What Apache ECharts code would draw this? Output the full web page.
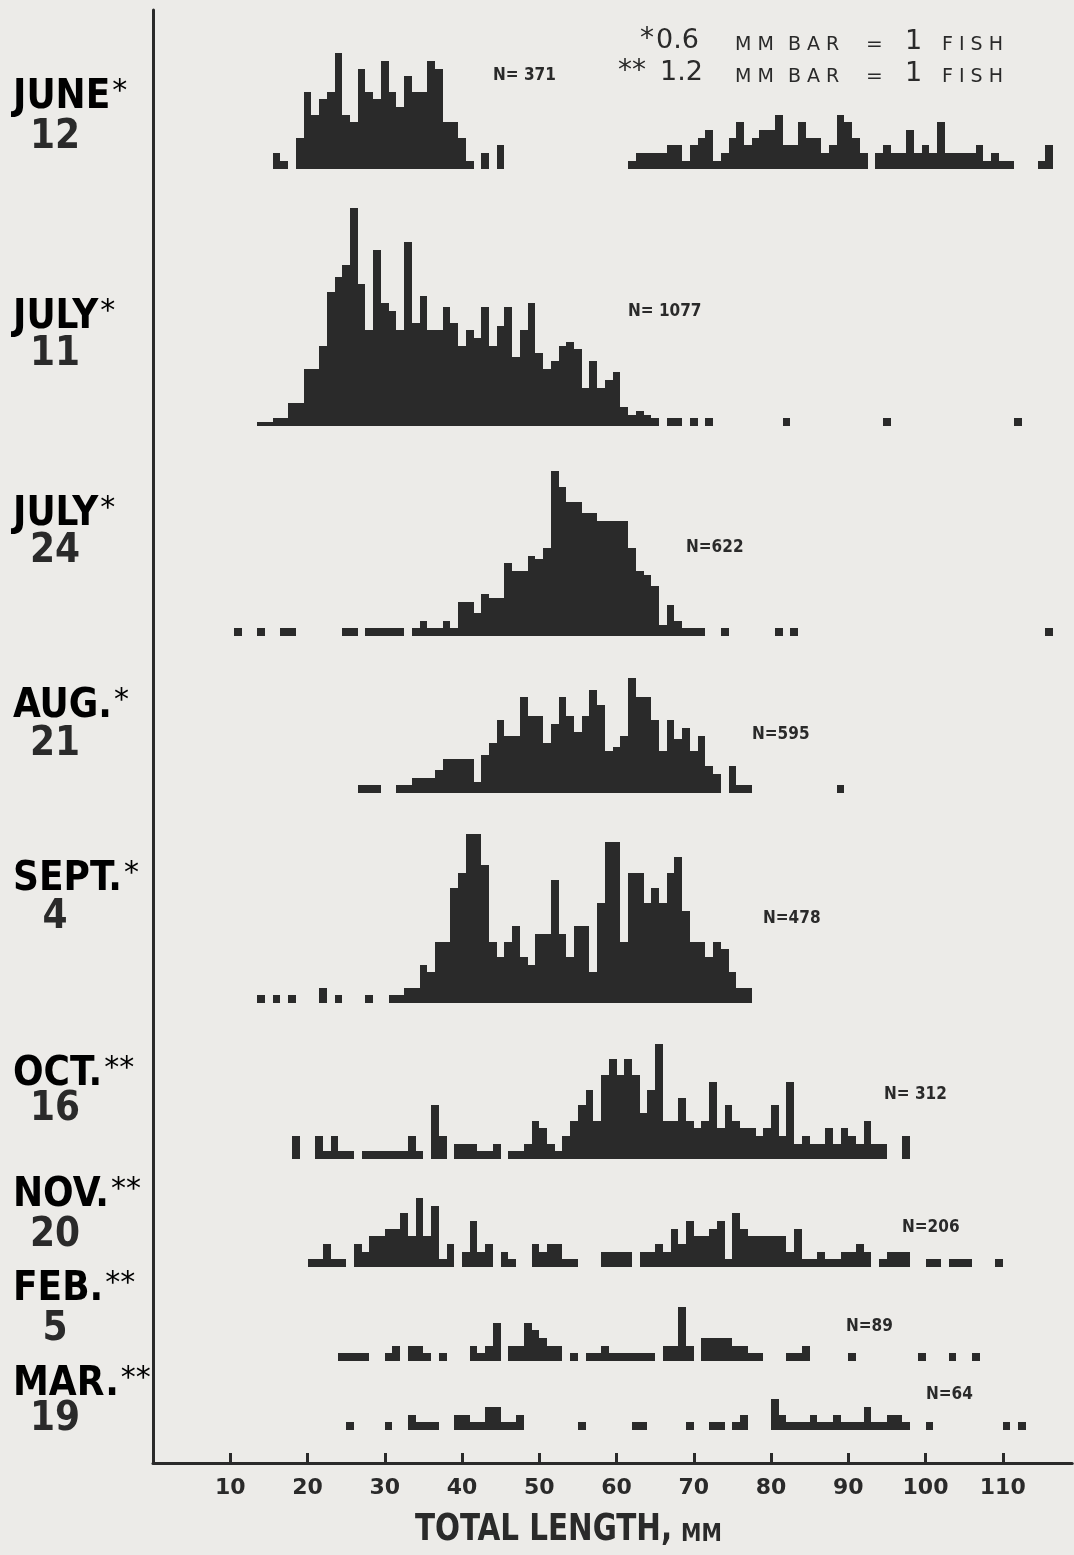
<!DOCTYPE html>
<html>
<head>
<meta charset="utf-8">
<title>Total length frequencies</title>
<script src="https://cdn.jsdelivr.net/npm/echarts@6/dist/echarts.min.js"></script>
<style>
html,body{margin:0;padding:0;background:#ecebe8;}
#chart{width:1074px;height:1555px;}
</style>
</head>
<body>
<div id="chart"></div>
<script>
// tick labels of the length axis (mm)
var lengthTicks = [10, 20, 30, 40, 50, 60, 70, 80, 90, 100, 110];

// every run is [first length class in mm, fish in each 1 mm class from there on]
var juneRuns = [
	[16, [2,1,0,4,10,7,9,10,15,7,6,13,10,9,14,10,8,12,10,10,14,13,6,6,4,1,0,2,0,3]],
	[62, [1,2,2,2,2,3,3,1,3,4,5,1,2,4,6,3,4,5,5,7,3,3,6,4,4,2,3,7,6,4,2,0,2,3,2,2,5,2,3,2,6,2,2,2,2,3,1,2,1,1]],
	[115, [1,3]]
];
var july11Runs = [
	[14, [1,1,2,2,6,6,15,15,21,35,39,42,57,37,25,46,32,30,25,48,27,34,25,25,31,27,21,25,23,31,21,26,31,18,25,32,19,15,17,21,22,20,10,17,10,12,14,5,3,4,3,2]],
	[67, [2,2,0,2,0,2]],
	[82, [2]], [95, [2]], [112, [2]]
];
var july24Runs = [
	[11, [2]], [14, [2]], [17, [2,2]], [25, [2,2]], [28, [2,2,2,2,2]],
	[34, [2,4,2,2,4,2,9,9,6,11,10,10,19,17,17,21,20,23,43,39,35,35,32,32,30,30,30,30,23,17,16,13,3,8,4,2,2,2]],
	[74, [2]], [81, [2]], [83, [2]], [116, [2]]
];
var aug21Runs = [
	[27, [2,2,2]],
	[32, [2,2,4,4,4,6,9,9,9,9,3,10,13,19,15,15,25,20,20,13,18,25,20,16,20,27,23,11,12,15,30,25,25,19,11,19,14,17,11,15,7,5,0,7,2,2]],
	[89, [2]]
];
var sept4Runs = [
	[14, [1,0,1,0,1]], [22, [2,0,1]], [28, [1]],
	[31, [1,1,2,2,5,4,8,8,15,17,22,22,18,8,6,8,10,6,5,9,9,16,9,6,10,10,4,13,21,21,8,17,17,13,15,13,17,19,12,8,8,6,8,7,4,2,2]]
];
var oct16Runs = [
	[18, [3]], [21, [3,1,3,1,1]], [27, [1,1,1,1,1,1,3,1]], [36, [7,3]], [39, [2,2,2,1,1,2]],
	[46, [1,1,2,5,4,2,1,3,5,7,9,5,11,13,11,13,11,6,9,15,5,5,8,5,4,5,10,4,7,5,4,4,3,4,7,3,10,2,3,2,2,4,2,4,3,2,5,2,2]],
	[97, [3]]
];
var nov20Runs = [
	[20, [1,1,3,1,1]], [26, [3,2,4,4,5,5,7,4,9,4,8,1,3]], [40, [2,6,2,3]], [45, [2,1]],
	[49, [3,2,3,3,1,1]], [58, [2,2,2,2]],
	[63, [2,2,3,2,5,3,6,4,4,5,6,1,7,5,4,4,4,4,4,2,5,1,1,2,1,1,2,2,3,2]],
	[94, [1,2,2,2]], [100, [1,1]], [103, [1,1,1]], [109, [1]]
];
var feb5Runs = [
	[24, [1,1,1,1]], [30, [1,2]], [33, [2,2,1]], [37, [1]], [41, [2,1,2,5]],
	[46, [2,2,5,4,3,2,2]], [54, [1]], [56, [1,1,2,1,1,1,1,1,1]], [66, [2,2,7,2]],
	[71, [3,3,3,3,2,2,1,1]], [82, [1,1,2]], [90, [1]], [99, [1]], [103, [1]], [106, [1]]
];
var mar19Runs = [
	[25, [1]], [30, [1]], [33, [2,1,1,1]], [39, [2,2,1,1,3,3,1,1,2]], [55, [1]], [62, [1,1]],
	[69, [1]], [72, [1,1]], [75, [1,2]],
	[80, [4,2,1,1,1,2,1,1,2,1,1,1,3,1,1,2,2,1]],
	[100, [1]], [110, [1]], [112, [1]]
];

var sampleMonths = ['JUNE', 'JULY', 'JULY', 'AUG.', 'SEPT.', 'OCT.', 'NOV.', 'FEB.', 'MAR.'];
var sampleMarks = ['*', '*', '*', '*', '*', '**', '**', '**', '**'];
var sampleDays = ['12', '11', '24', '21', '4', '16', '20', '5', '19'];
var sampleN = ['N= 371', 'N= 1077', 'N=622', 'N=595', 'N=478', 'N= 312', 'N=206', 'N=89', 'N=64'];

var allRuns = [juneRuns, july11Runs, july24Runs, aug21Runs, sept4Runs, oct16Runs, nov20Runs, feb5Runs, mar19Runs];

// layout of the nine strips (pixels)
var panelBase = [168.5, 426, 636, 793, 1003, 1159, 1267, 1361, 1430];
var panelPx = [7.67, 3.83, 3.83, 3.83, 7.67, 7.67, 7.67, 7.67, 7.67];   // pixels per fish
var panelShift = [0, 0, 0, 0, 0, 0.5, 0.5, 0.5, 0.5];
var panelH = [150, 230, 230, 230, 230, 150, 150, 150, 150];
var monthY = [98, 318, 515, 707, 880, 1075, 1196, 1290, 1385];
var dayY = [138, 355, 552, 745, 918, 1110, 1236, 1330, 1420];
var nPos = [[493,76],[628,312],[686,548],[752,735],[763,919],[884,1095],[902,1228],[846,1327],[926,1395]];

var INK = '#2a2a2a';
var NARROW = "'Liberation Sans Narrow', 'DejaVu Sans Condensed', 'Liberation Sans', sans-serif";
var THIN = "'DejaVu Sans', 'Open Sans', sans-serif";
var LEFT = 153, PX_MM = 7.725, MAX_MM = 119;
var plotW = PX_MM * MAX_MM;

function toPoints(runs){
	var out = [];
	runs.forEach(function(r){
		r[1].forEach(function(n, j){
			if(n > 0) out.push([r[0] + j, n]);
		});
	});
	return out;
}

var grids = [{left: LEFT, top: 10, width: plotW, height: 1463 - 10}];
var xAxes = [{
	gridIndex: 0, type: 'value', min: 0, max: MAX_MM,
	axisLine: {show: true, lineStyle: {color: INK, width: 3}},
	axisTick: {show: true, inside: true, length: 10, customValues: lengthTicks, lineStyle: {color: INK, width: 3}},
	axisLabel: {customValues: lengthTicks, margin: 14, color: INK, fontSize: 22, fontWeight: 'bold', fontFamily: 'DejaVu Sans'},
	splitLine: {show: false}
}];
var yAxes = [{
	gridIndex: 0, type: 'value', min: 0, max: 1,
	axisLine: {show: true, lineStyle: {color: INK, width: 3}},
	axisTick: {show: false}, axisLabel: {show: false}, splitLine: {show: false}
}];
var series = [];

allRuns.forEach(function(runs, i){
	var g = i + 1;
	grids.push({left: LEFT, top: panelBase[i] - panelH[i], width: plotW, height: panelH[i]});
	xAxes.push({gridIndex: g, type: 'value', min: 0, max: MAX_MM, show: false});
	yAxes.push({gridIndex: g, type: 'value', min: 0, max: panelH[i] / panelPx[i], show: false});
	var shift = panelShift[i];
	series.push({
		type: 'custom',
		xAxisIndex: g,
		yAxisIndex: g,
		data: toPoints(runs),
		renderItem: function(params, api){
			var k = api.value(0), n = api.value(1);
			var a = api.coord([k - 0.5 + shift, 0]);
			var b = api.coord([k + 0.5 + shift, n]);
			// snap to whole pixels so neighbouring bars join without seams
			var x0 = Math.round(a[0]), x1 = Math.round(b[0]);
			var y0 = Math.round(a[1]), y1 = Math.round(b[1]);
			return {
				type: 'rect',
				shape: {x: x0, y: y1, width: x1 - x0, height: y0 - y1},
				style: {fill: INK}
			};
		}
	});
});

var texts = [];
function addText(str, x, y, size, weight, family, align, sx){
	texts.push({
		type: 'text', x: x, y: y, silent: true, scaleX: sx || 1,
		style: {
			text: str, fill: INK, fontSize: size, fontWeight: weight, fontFamily: family,
			align: align || 'left', textAlign: align || 'left',
			verticalAlign: 'middle', textVerticalAlign: 'middle'
		}
	});
}

sampleMonths.forEach(function(m, i){
	texts.push({
		type: 'text', x: 13, y: monthY[i], silent: true,
		style: {
			text: '{m|' + m + '}{s|' + sampleMarks[i] + '}',
			verticalAlign: 'middle', textVerticalAlign: 'middle',
			rich: {
				m: {fontSize: 40, fontWeight: 'bold', fontFamily: NARROW, color: INK, lineHeight: 42},
				s: {fontSize: 30, fontFamily: THIN, color: INK, lineHeight: 42, verticalAlign: 'top', padding: [0, 0, 0, 2]}
			}
		}
	});
	addText(sampleDays[i], 55, dayY[i], 40, 'bold', NARROW, 'center');
	addText(sampleN[i], nPos[i][0], nPos[i][1], 17, 'bold', NARROW);
});

// scale note, top right
addText('*', 640, 40, 28, 'normal', THIN);
addText('0.6', 656, 41, 27, 'normal', THIN);
addText('**', 618, 72, 28, 'normal', THIN);
addText('1.2', 660, 73, 27, 'normal', THIN);
[45, 77].forEach(function(y){
	addText('M M', 735, y, 19, 'normal', THIN);
	addText('B A R', 788, y, 19, 'normal', THIN);
	addText('=', 866, y, 20, 'normal', THIN);
	addText('1', 905, y - 3, 27, 'normal', THIN);
	addText('F I S H', 942, y, 19, 'normal', THIN);
});

// axis title
addText('TOTAL LENGTH,', 415, 1530, 38, 'bold', NARROW, 'left', 0.86);
addText('MM', 681, 1535, 24, 'bold', NARROW, 'left', 0.95);

var chart = echarts.init(document.getElementById('chart'));
chart.setOption({
	backgroundColor: '#ecebe8',
	animation: false,
	grid: grids,
	xAxis: xAxes,
	yAxis: yAxes,
	series: series,
	graphic: {elements: texts}
});
</script>
</body>
</html>
